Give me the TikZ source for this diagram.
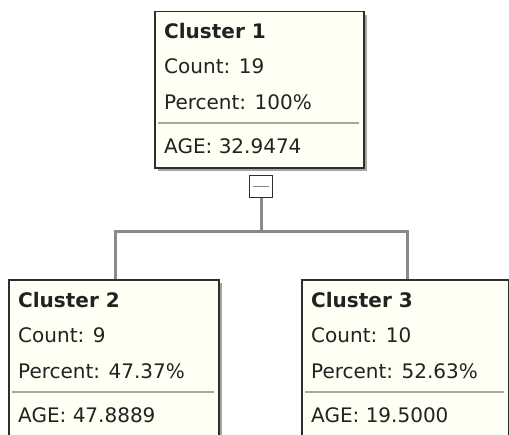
\documentclass[tikz,border=0pt]{standalone}
\usepackage{fontspec}
\setmainfont{DejaVu Sans}
\usetikzlibrary{shadows}
\definecolor{boxfill}{HTML}{FFFFF4}
\definecolor{boxline}{HTML}{2E2E2E}
\definecolor{conn}{HTML}{8A8A8A}
\definecolor{txt}{HTML}{222222}
\definecolor{sepc}{HTML}{A8A8A0}
\tikzset{
  clbox/.style={draw=boxline, line width=1.5bp, fill=boxfill, rectangle, inner sep=0pt,
    anchor=north west, minimum width=#1, minimum height=166bp,
    drop shadow={shadow xshift=3bp, shadow yshift=-3bp, fill=black, opacity=0.35}},
  lbl/.style={anchor=base west, inner sep=0pt, text=txt, font=\fontsize{20bp}{24bp}\selectfont},
  ttl/.style={lbl, font=\fontsize{20bp}{24bp}\selectfont\bfseries},
  sepline/.style={draw=sepc, line width=1.5bp},
  connector/.style={draw=conn, line width=3bp},
  togglebox/.style={draw=boxline, line width=1.3bp, fill=white, rectangle, inner sep=0pt,
    minimum width=23bp, minimum height=22bp},
}
\begin{document}
\begin{tikzpicture}[x=1bp,y=-1bp]
\useasboundingbox (0,0) rectangle (509,435);
\clip (0,0) rectangle (509,435);
% connectors
\coordinate (j1) at (261,232);
\node[togglebox] (t1) at (261,186.5) {};
% boxes
\node[clbox=209bp, minimum height=156bp] (c1) at (154,11) {};
\node[clbox=210bp] (c2) at (8,279) {};
\node[clbox=207bp] (c3) at (301,279) {};
\draw[connector] (t1.south) -- (j1);
\draw[connector] (j1) -| ([xshift=2bp]c2.north);
\draw[connector] (j1) -| ([xshift=2.5bp]c3.north);
\draw[draw=gray, line width=1.2bp] ([xshift=4bp]t1.west) -- ([xshift=-4bp]t1.east);
% cluster 1
\node[ttl] (c1a) at (164,39) {Cluster 1};
\node[lbl] (c1b) at (164,74) {Count: 19};
\node[lbl] (c1c) at (164,110) {Percent: 100\%};
\draw[sepline] (158,123) -- (359,123);
\node[lbl] (c1d) at (164,154) {AGE: 32.9474};
% cluster 2
\node[ttl] (c2a) at (18,307) {Cluster 2};
\node[lbl] (c2b) at (18,342) {Count: 9};
\node[lbl] (c2c) at (18,378) {Percent: 47.37\%};
\draw[sepline] (12,392) -- (214,392);
\node[lbl] (c2d) at (18,422) {AGE: 47.8889};
% cluster 3
\node[ttl] (c3a) at (311,307) {Cluster 3};
\node[lbl] (c3b) at (311,342) {Count: 10};
\node[lbl] (c3c) at (311,378) {Percent: 52.63\%};
\draw[sepline] (305,392) -- (504,392);
\node[lbl] (c3d) at (311,422) {AGE: 19.5000};
\end{tikzpicture}
\end{document}
